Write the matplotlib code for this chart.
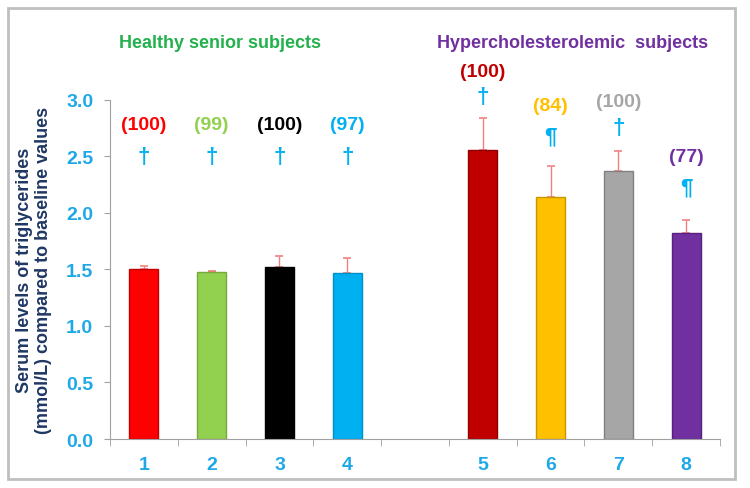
import matplotlib.pyplot as plt
import numpy as np
from matplotlib.patches import Rectangle

# data
groups = ['1', '2', '3', '4', '', '5', '6', '7', '8']
means = [1.50, 1.48, 1.52, 1.47, np.nan, 2.56, 2.14, 2.37, 1.82]
sems = [0.03, 0.01, 0.10, 0.13, np.nan, 0.28, 0.28, 0.18, 0.12]
bar_colors = ['#FF0000', '#92D050', '#000000', '#00B0F0', 'none',
              '#C00000', '#FFC000', '#A6A6A6', '#7030A0']
edge_colors = ['#C00000', '#76A83C', '#000000', '#0090C8', 'none',
               '#900000', '#C89600', '#808080', '#582080']
n_labels = ['(100)', '(99)', '(100)', '(97)', '', '(100)', '(84)', '(100)', '(77)']
sig = ['†', '†', '†', '†', '', '†', '¶', '†', '¶']

# label heights (layout only)
n_y = [2.78, 2.78, 2.78, 2.78, 0, 3.25, 2.95, 2.99, 2.50]
sig_y = [2.50, 2.50, 2.50, 2.50, 0, 3.03, 2.68, 2.76, 2.23]

plt.rcParams['font.family'] = ['Liberation Sans', 'DejaVu Sans']
plt.rcParams['font.weight'] = 'bold'

fig = plt.figure(figsize=(7.5, 4.89), dpi=100)
ax = fig.add_axes([0.1467, 0.1002, 0.8133, 0.6933])

x = np.arange(len(groups))
ax.bar(x, means, width=0.43, color=bar_colors, edgecolor=edge_colors,
       linewidth=1, zorder=2)
ax.errorbar(x, means, yerr=[np.zeros(len(sems)), sems], fmt='none',
            ecolor='#F08080', elinewidth=1, capsize=3, capthick=1.2, zorder=1)

for i in range(len(groups)):
    if not n_labels[i]:
        continue
    ax.text(x[i], n_y[i], n_labels[i], ha='center', va='center',
            color=bar_colors[i], fontsize=14, fontweight='bold', clip_on=False)
    ax.text(x[i], sig_y[i], sig[i], ha='center', va='center', color='#00B0F0',
            fontsize=16, fontweight='bold', clip_on=False)

ax.set_xlim(-0.5, len(groups) - 0.5)
ax.set_ylim(0, 3.0)
ax.set_yticks(np.arange(0, 3.01, 0.5))
ax.set_yticklabels(['%.1f' % v for v in np.arange(0, 3.01, 0.5)])
ax.set_xticks(x)
ax.set_xticklabels(groups)
ax.set_xticks(np.arange(-0.5, len(groups), 1), minor=True)
ax.tick_params(axis='x', which='major', length=0, pad=12)
ax.tick_params(axis='x', which='minor', length=5, color='#A0A0A0')
ax.tick_params(axis='y', length=4, color='#A0A0A0', pad=8)
for lab in ax.get_xticklabels() + ax.get_yticklabels():
    lab.set_color('#1FA8E8')
    lab.set_fontsize(14)
    lab.set_fontweight('bold')

for s in ['top', 'right']:
    ax.spines[s].set_visible(False)
for s in ['left', 'bottom']:
    ax.spines[s].set_color('#A0A0A0')

ax.set_ylabel('Serum levels of triglycerides\n(mmol/L) compared to baseline values',
              color='#1F3864', fontsize=13, fontweight='bold', labelpad=10)

fig.text(220 / 750, 1 - 43 / 489, 'Healthy senior subjects', color='#22B14C',
         fontsize=13, fontweight='bold', ha='center', va='center')
fig.text(573 / 750, 1 - 43 / 489, 'Hypercholesterolemic  subjects', color='#7030A0',
         fontsize=13, fontweight='bold', ha='center', va='center')

fig.add_artist(Rectangle((8 / 750, 9 / 489), 727 / 750, 471 / 489, transform=fig.transFigure,
                         fill=False, edgecolor='#BFBFBF', linewidth=2))

fig.savefig('out.png', dpi=100)
